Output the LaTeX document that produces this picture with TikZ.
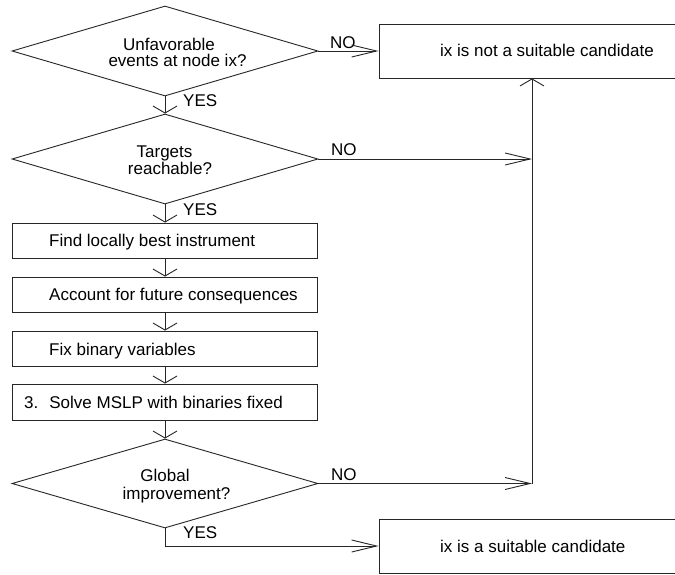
\documentclass[tikz,border=0pt]{standalone}
\usepackage{fontspec}
\setmainfont{Liberation Sans}
\usetikzlibrary{arrows.meta,shapes.geometric}
\begin{document}
\begin{tikzpicture}[x=1pt,y=-1pt,
  every node/.style={font=\fontsize{17}{20}\selectfont},
  line/.style={draw=black!85, line width=0.9pt},
  dec/.style={line, shape=diamond, minimum width=306pt, minimum height=90pt, inner sep=0pt},
  stepbox/.style={line, shape=rectangle, minimum width=305pt, minimum height=35pt, inner sep=0pt},
  endbox/.style={line, shape=rectangle, minimum width=321pt, minimum height=54pt, inner sep=0pt},
  txt/.style={inner sep=0pt, anchor=base},
  ltxt/.style={inner sep=0pt, anchor=base west},
  harr/.style={line, -{Straight Barb[length=25pt,width=12pt]}},
  varr/.style={line, -{Straight Barb[length=7pt,width=24pt]}},
]
\useasboundingbox (0,0) rectangle (675,574);
\clip (0,0) rectangle (675,574);
\fill[white] (0,0) rectangle (675,574);

\node[dec] (d1) at (165,51) {};
\node[dec] (d2) at (165,159) {};
\node[stepbox] (b1) at (165,240.5) {};
\node[stepbox] (b2) at (165,294.5) {};
\node[stepbox] (b3) at (165,348.5) {};
\node[stepbox, minimum height=36pt] (b4) at (165,402) {};
\node[dec, minimum height=89pt] (d3) at (165,483.5) {};
\node[endbox] (nots) at (539.5,51) {};
\node[endbox] (suit) at (539.5,546) {};

\node[txt] (t1a) at (169,50) {Unfavorable};
\node[txt] (t1b) at (177.5,66.7) {events at node ix?};
\node[txt] (t2a) at (164.5,157) {Targets};
\node[txt] (t2b) at (170,174) {reachable?};
\node[txt] (t3a) at (165,481.7) {Global};
\node[txt] (t3b) at (176.5,499) {improvement?};
\node[ltxt] (tb1) at (49,246.7) {Find locally best instrument};
\node[ltxt] (tb2) at (49,300) {Account for future consequences};
\node[ltxt] (tb3) at (49,355) {Fix binary variables};
\node[ltxt] (tb4) at (24,408) {3.\hspace{11pt}Solve MSLP with binaries fixed};
\node[ltxt] (tn) at (440,56.7) {ix is not a suitable candidate};
\node[ltxt] (ts) at (440,552.7) {ix is a suitable candidate};

\node[ltxt] (y1) at (183,106.7) {YES};
\node[ltxt] (y2) at (183,215) {YES};
\node[ltxt] (y3) at (183,538) {YES};
\node[ltxt] (n1) at (330,48) {NO};
\node[ltxt] (n2) at (331,155.7) {NO};
\node[ltxt] (n3) at (331,480) {NO};

\coordinate (j2) at (532,159);
\coordinate (j3) at (532,483.5);

\draw[varr] (d1.south) -- (d2.north);
\draw[varr] (d2.south) -- (b1.north);
\draw[varr] (b1.south) -- (b2.north);
\draw[varr] (b2.south) -- (b3.north);
\draw[varr] (b3.south) -- (b4.north);
\draw[varr] (b4.south) -- (d3.north);
\draw[harr] (d1.east) -- (nots.west);
\draw[harr] (d2.east) -- (j2);
\draw[harr] (d3.east) -- (j3);
\draw[varr] (j3) -- (j3 |- nots.south);
\draw[harr] (d3.south) |- (suit.west);
\end{tikzpicture}
\end{document}
